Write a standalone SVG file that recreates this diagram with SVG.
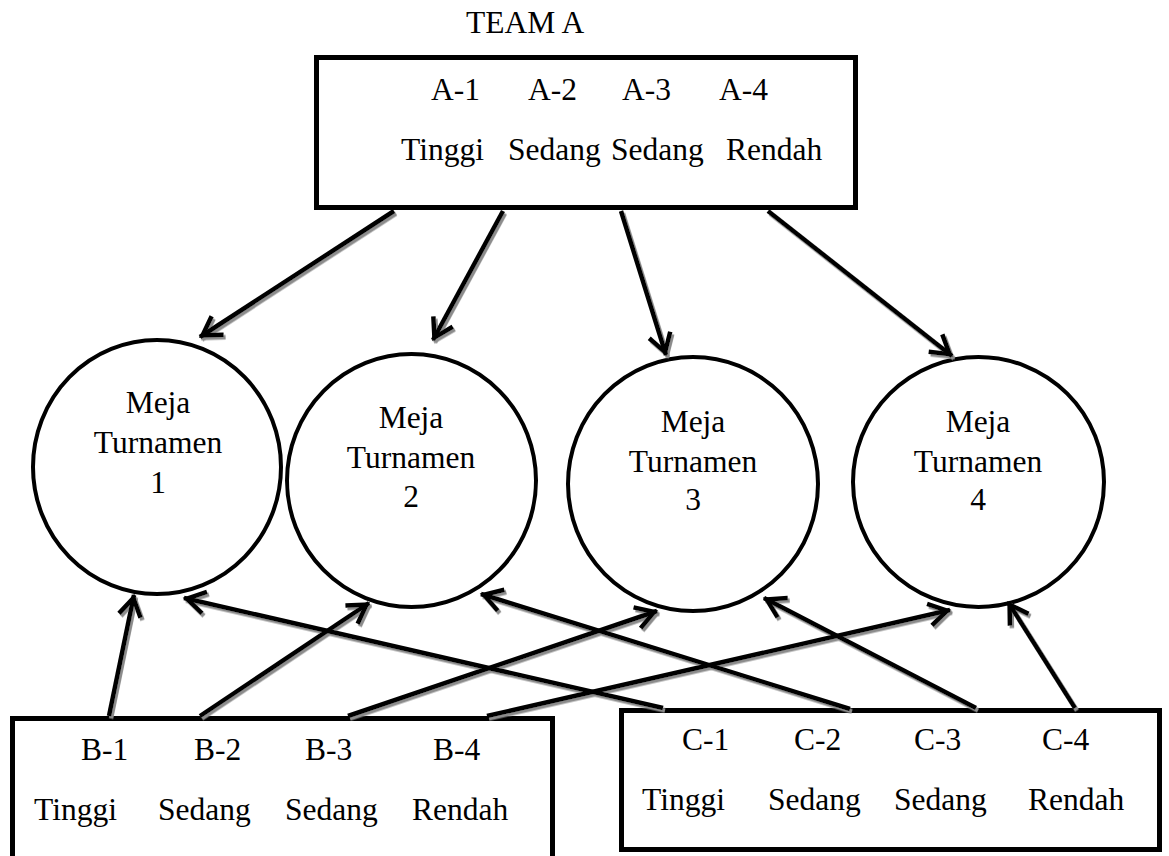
<svg xmlns="http://www.w3.org/2000/svg" width="1169" height="856" viewBox="0 0 1169 856" font-family="'Liberation Serif', 'Times New Roman', 'DejaVu Serif', serif">
<style>
text{font-family:'Liberation Serif','Times New Roman','DejaVu Serif',serif;font-size:31.5px;fill:#000}
.box{fill:#fff;stroke:#000;stroke-width:5}
.circ{fill:#fff;stroke:#000;stroke-width:4}
.mid{text-anchor:middle}
.conn line{stroke:#000;stroke-width:4.5;fill:none;marker-end:url(#arr)}
</style>
<defs>
<marker id="arr" markerUnits="userSpaceOnUse" markerWidth="40" markerHeight="40" viewBox="-25 -20 40 40" refX="3" refY="0" orient="auto" overflow="visible">
<path d="M -18 -11 L 0 0 L -18 11" fill="none" stroke="#000" stroke-width="4.5" stroke-linejoin="miter"/>
</marker>
<filter id="sh" x="-10%" y="-10%" width="120%" height="120%">
<feDropShadow dx="2" dy="2.5" stdDeviation="0.4" flood-color="#8c8c8c" flood-opacity="1"/>
</filter>
</defs>
<rect width="1169" height="856" fill="#fff"/>
<text x="466" y="33">TEAM A</text>
<g id="teamA">
<rect class="box" x="316.5" y="57.5" width="539" height="150"/>
<text x="431" y="100">A-1</text>
<text x="528" y="100">A-2</text>
<text x="622" y="100">A-3</text>
<text x="719" y="100">A-4</text>
<text x="401" y="160">Tinggi</text>
<text x="508" y="160">Sedang</text>
<text x="611" y="160">Sedang</text>
<text x="726" y="160">Rendah</text>
</g>
<g id="meja1">
<ellipse class="circ" cx="157" cy="467" rx="124" ry="127"/>
<text class="mid" x="158" y="413">Meja</text>
<text class="mid" x="158" y="453">Turnamen</text>
<text class="mid" x="158" y="493">1</text>
</g>
<g id="meja2">
<ellipse class="circ" cx="411.5" cy="480.5" rx="124.5" ry="126.5"/>
<text class="mid" x="411" y="428">Meja</text>
<text class="mid" x="411" y="468">Turnamen</text>
<text class="mid" x="411" y="507">2</text>
</g>
<g id="meja3">
<ellipse class="circ" cx="693" cy="484" rx="125" ry="127"/>
<text class="mid" x="693" y="432">Meja</text>
<text class="mid" x="693" y="472">Turnamen</text>
<text class="mid" x="693" y="510">3</text>
</g>
<g id="meja4">
<ellipse class="circ" cx="978.5" cy="482" rx="125.5" ry="125"/>
<text class="mid" x="978" y="432">Meja</text>
<text class="mid" x="978" y="472">Turnamen</text>
<text class="mid" x="978" y="510">4</text>
</g>
<g id="teamB">
<rect class="box" x="12.5" y="718.5" width="540" height="200"/>
<text x="81" y="760">B-1</text>
<text x="194" y="760">B-2</text>
<text x="305" y="760">B-3</text>
<text x="433" y="760">B-4</text>
<text x="34" y="820">Tinggi</text>
<text x="158" y="820">Sedang</text>
<text x="285" y="820">Sedang</text>
<text x="412" y="820">Rendah</text>
</g>
<g id="teamC">
<rect class="box" x="621.5" y="710.5" width="538" height="139"/>
<text x="682" y="750">C-1</text>
<text x="794" y="750">C-2</text>
<text x="914" y="750">C-3</text>
<text x="1042" y="750">C-4</text>
<text x="642" y="810">Tinggi</text>
<text x="768" y="810">Sedang</text>
<text x="894" y="810">Sedang</text>
<text x="1028" y="810">Rendah</text>
</g>
<g id="connectors" class="conn" filter="url(#sh)">
<line x1="394" y1="211" x2="200" y2="337"/>
<line x1="503" y1="211" x2="433" y2="340"/>
<line x1="621" y1="211" x2="666" y2="355"/>
<line x1="768" y1="211" x2="952" y2="356"/>
<line x1="109" y1="716" x2="134" y2="595"/>
<line x1="200" y1="716" x2="369" y2="603"/>
<line x1="348" y1="716" x2="657" y2="611"/>
<line x1="487" y1="716" x2="950" y2="610"/>
<line x1="663" y1="708" x2="184" y2="598"/>
<line x1="850" y1="709" x2="481" y2="594"/>
<line x1="976" y1="708" x2="764" y2="598"/>
<line x1="1075" y1="708" x2="1008" y2="602"/>
</g>
</svg>
